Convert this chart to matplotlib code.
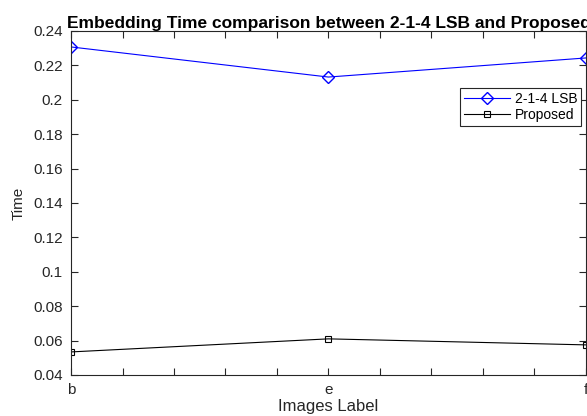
import matplotlib
matplotlib.use('Agg')
import matplotlib.pyplot as plt
from matplotlib.ticker import FuncFormatter, FixedLocator

plt.rcParams['font.family'] = ['Liberation Sans', 'DejaVu Sans']

# data
images = ['b', 'e', 'f']
lsb_time = [0.2307, 0.2132, 0.2243]
proposed_time = [0.0534, 0.0610, 0.0575]

fig = plt.figure(figsize=(5.87, 4.16), dpi=100)
ax = fig.add_axes([0.121, 0.0986, 0.877, 0.827])

x = [1, 2, 3]
ax.plot(x, lsb_time, color='#0000ff', lw=0.8, marker='D', markersize=6,
        markerfacecolor='none', markeredgewidth=1.0, label='2-1-4 LSB')
ax.plot(x, proposed_time, color='black', lw=0.8, marker='s', markersize=5,
        markerfacecolor='none', markeredgewidth=0.8, label='Proposed')

ax.set_xlim(1, 3)
ax.set_ylim(0.04, 0.24)

# x ticks every 0.2, labels only at image positions
xt = [1 + 0.2 * i for i in range(11)]
ax.xaxis.set_major_locator(FixedLocator(xt))
ax.set_xticklabels([images[int(round(t)) - 1] if abs(t - round(t)) < 1e-6 else '' for t in xt])
ax.set_yticks([0.04 + 0.02 * i for i in range(11)])
ax.yaxis.set_major_formatter(FuncFormatter(lambda v, p: '%g' % round(v, 4)))

ax.tick_params(direction='in', top=True, right=True, length=5, width=0.8,
               labelsize=11, colors='#262626', pad=6)
for s in ax.spines.values():
    s.set_linewidth(0.8)
    s.set_color('#262626')

ax.set_xlabel('Images Label', fontsize=12, color='#262626', labelpad=1)
ax.set_ylabel('Time', fontsize=11, color='#262626', labelpad=5)
# title runs past the right edge, as in the original
ax.set_title('Embedding Time comparison between 2-1-4 LSB and Proposed',
             fontsize=12.5, fontweight='bold', pad=2)

leg = ax.legend(loc='upper right', bbox_to_anchor=(0.99, 0.834), fontsize=10,
                fancybox=False, edgecolor='#262626', framealpha=1,
                handlelength=3.3, borderpad=0.25, labelspacing=0.2,
                handletextpad=0.35, borderaxespad=0)
leg.get_frame().set_linewidth(0.8)

fig.savefig('out.png', dpi=100)
